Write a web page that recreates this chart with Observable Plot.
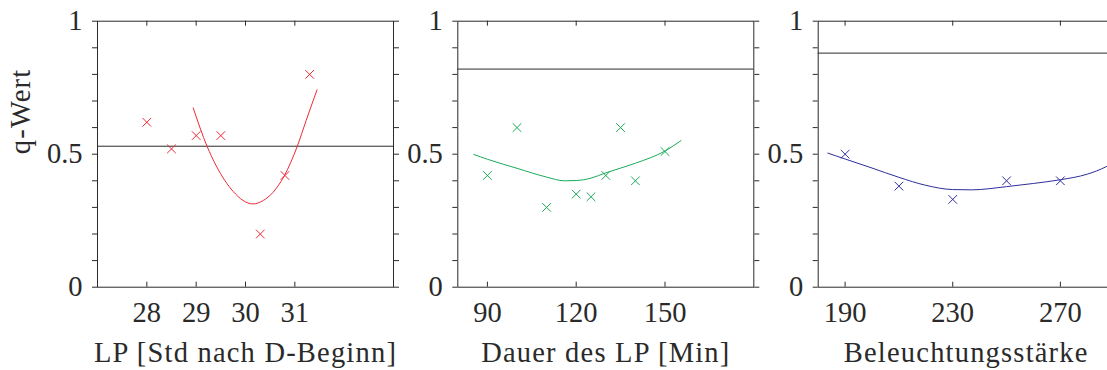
<!DOCTYPE html>
<html>
<head>
<meta charset="utf-8">
<script src="https://cdn.jsdelivr.net/npm/d3@7"></script>
<script src="https://cdn.jsdelivr.net/npm/@observablehq/plot@0.6"></script>
<style>
  html, body { margin: 0; padding: 0; background: #fff; }
  #wrap { position: relative; width: 1107px; height: 370px; overflow: hidden; background: #fff; }
</style>
</head>
<body>
<div id="wrap"></div>
<script>
// ---- shared axis data ----
const yMinorTicks = [0, 0.1, 0.2, 0.3, 0.4, 0.5, 0.6, 0.7, 0.8, 0.9, 1];
const yLabelTicks = [0, 0.5, 1];
const yTickLabels = ["0", "0.5", "1"];
const yLabel = "q-Wert";

// ---- panel 1: LP ----
const p1Domain = [27, 33];
const p1Ticks = [28, 29, 30, 31];
const p1X = [28, 28.5, 29, 29.5, 30.3, 30.8, 31.3];
const p1Y = [0.62, 0.52, 0.57, 0.57, 0.20, 0.42, 0.80];
const p1FitX = [28.94, 29.22, 29.41, 29.75, 29.95, 30.15, 30.36, 30.56, 30.79, 31.05, 31.23, 31.45];
const p1FitY = [0.674, 0.53, 0.455, 0.36, 0.326, 0.313, 0.326, 0.357, 0.42, 0.53, 0.627, 0.742];
const p1Ref = 0.53;
const p1Label = "LP [Std nach D-Beginn]";

// ---- panel 2: Dauer ----
const p2Domain = [80, 180];
const p2Ticks = [90, 120, 150];
const p2X = [90, 100, 110, 120, 125, 130, 135, 140, 150];
const p2Y = [0.42, 0.60, 0.30, 0.35, 0.34, 0.42, 0.60, 0.40, 0.51];
const p2FitX = [85.4, 90, 100, 110, 116, 120, 125, 130, 140, 150, 155.4];
const p2FitY = [0.499, 0.481, 0.447, 0.414, 0.400, 0.401, 0.41, 0.43, 0.466, 0.512, 0.551];
const p2Ref = 0.82;
const p2Label = "Dauer des LP [Min]";

// ---- panel 3: Beleuchtung ----
const p3Domain = [180, 290];
const p3Ticks = [190, 230, 270];
const p3X = [190, 210, 230, 250, 270];
const p3Y = [0.50, 0.38, 0.33, 0.40, 0.40];
const p3FitX = [183.6, 190, 200, 210, 220, 230, 237, 250, 260, 270, 280, 287, 290];
const p3FitY = [0.504, 0.482, 0.448, 0.413, 0.383, 0.367, 0.366, 0.378, 0.39, 0.404, 0.425, 0.453, 0.47];
const p3Ref = 0.88;
const p3Label = "Beleuchtungsstärke";

const FONT = "Liberation Serif";
const INK = "#2a2a2a";
const TOP = 20.7, BOTTOM = 286.7, H = 370;
const FRAME_H = BOTTOM - TOP;

function panel({left, marginLeft, width, domain, ticks, xs, ys, fxs, fys, ref, color, label, showYLabel}) {
  const pts = xs.map((x, i) => ({x, y: ys[i]}));
  const fit = fxs.map((x, i) => ({x, y: fys[i]}));
  const marginRight = width - marginLeft - 296;
  const marks = [
    Plot.axisY({anchor: "left", ticks: yMinorTicks, tickSize: 5, tickFormat: () => "", stroke: INK, label: null}),
    Plot.axisY({anchor: "right", ticks: yMinorTicks, tickSize: 5, tickFormat: () => "", stroke: INK, label: null}),
    Plot.axisY({anchor: "left", ticks: yLabelTicks, tickSize: 0, tickPadding: 15,
      tickFormat: d => yTickLabels[yLabelTicks.indexOf(d)], fill: INK, label: null}),
    Plot.axisX({anchor: "bottom", ticks, tickSize: 0, tickPadding: 15, tickFormat: d => String(d), fill: INK, label: null}),
    Plot.tickX(ticks, {x: d => d, insetTop: FRAME_H - 5, stroke: INK}),
    Plot.tickX(ticks, {x: d => d, insetBottom: FRAME_H - 5, stroke: INK}),
    Plot.ruleY([ref], {stroke: INK, strokeWidth: 1}),
    Plot.line(fit, {x: "x", y: "y", stroke: color, strokeWidth: 1, curve: "monotone-x"}),
    Plot.dot(pts, {x: "x", y: "y", symbol: "times", r: 4, stroke: color, strokeWidth: 1}),
    Plot.frame({stroke: INK}),
    Plot.text([label], {frameAnchor: "bottom", dy: 75, lineAnchor: "bottom", text: d => d, fill: INK})
  ];
  if (showYLabel) {
    marks.push(Plot.text([yLabel], {frameAnchor: "left", dx: -77, rotate: -90, lineAnchor: "middle", text: d => d, fill: INK}));
  }
  const svg = Plot.plot({
    width, height: H,
    marginTop: TOP, marginBottom: H - BOTTOM, marginLeft, marginRight,
    x: {domain, label: null},
    y: {domain: [0, 1], label: null},
    style: {fontFamily: FONT, fontSize: "28.5px", background: "transparent", overflow: "visible"},
    marks
  });
  // widen the axis titles slightly (Computer Modern is wider than Times)
  svg.querySelectorAll("text").forEach(t => {
    const s = t.textContent;
    if (s === label || s === yLabel) t.style.letterSpacing = "1.2px";
  });
  svg.style.left = left + "px";
  svg.style.top = "0px";
  svg.style.position = "absolute";
  return svg;
}

const wrap = document.getElementById("wrap");
wrap.appendChild(panel({left: 0, marginLeft: 97, width: 410, domain: p1Domain, ticks: p1Ticks,
  xs: p1X, ys: p1Y, fxs: p1FitX, fys: p1FitY, ref: p1Ref, color: "#ee2a36", label: p1Label, showYLabel: true}));
wrap.appendChild(panel({left: 410, marginLeft: 47.3, width: 360, domain: p2Domain, ticks: p2Ticks,
  xs: p2X, ys: p2Y, fxs: p2FitX, fys: p2FitY, ref: p2Ref, color: "#1aaa5a", label: p2Label}));
wrap.appendChild(panel({left: 770, marginLeft: 47.7, width: 360, domain: p3Domain, ticks: p3Ticks,
  xs: p3X, ys: p3Y, fxs: p3FitX, fys: p3FitY, ref: p3Ref, color: "#2e2e9e", label: p3Label}));
</script>
</body>
</html>
